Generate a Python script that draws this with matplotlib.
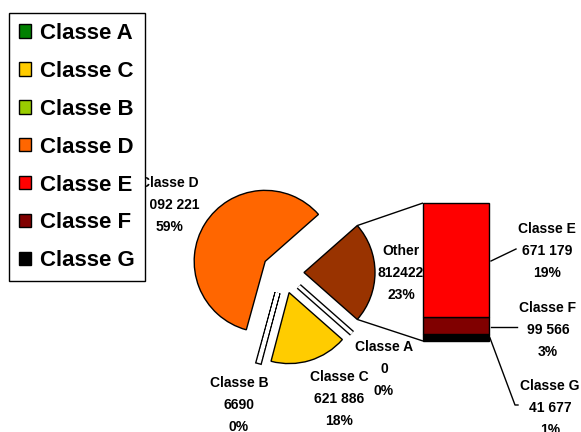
import numpy as np
import matplotlib
matplotlib.use("Agg")
import matplotlib.pyplot as plt
from matplotlib.patches import Patch
import matplotlib.patheffects as pe

plt.rcParams['font.family'] = ['Liberation Sans', 'DejaVu Sans']

# ---- data ----
legend_names = ["Classe A", "Classe C", "Classe B", "Classe D", "Classe E", "Classe F", "Classe G"]
legend_colors = ["#008000", "#FFCC00", "#99CC00", "#FF6600", "#FF0000", "#800000", "#000000"]

pie_names = ["Other", "Classe A", "Classe C", "Classe B", "Classe D"]
pie_values = [812422, 0, 621886, 6690, 2092221]
pie_value_text = ["812422", "0", "621 886", "6690", "2 092 221"]
pie_pct = ["23%", "0%", "18%", "0%", "59%"]
pie_colors = ["#993300", "#008000", "#FFCC00", "#99CC00", "#FF6600"]

bar_names = ["Classe G", "Classe F", "Classe E"]   # bottom to top
bar_values = [41677, 99566, 671179]
bar_value_text = ["41 677", "99 566", "671 179"]
bar_pct = ["1%", "3%", "19%"]
bar_colors = ["#000000", "#800000", "#FF0000"]

W, H = 581, 432
fig = plt.figure(figsize=(W / 100, H / 100), dpi=100)
ax = fig.add_axes([0, 0, 1, 1])

def py(y):  # pixel-from-top to data y
    return H - y

# ---- pie ----
center = (283, py(272.5))
radius = 71
expl = 21
total = sum(pie_values)
start = pie_values[0] / total * 180.0
wedges, _ = ax.pie(pie_values, colors=pie_colors, startangle=start, counterclock=False,
                   radius=radius, center=center, explode=[expl] * len(pie_values),
                   wedgeprops=dict(edgecolor='black', linewidth=1.0), frame=True)
ax.set_xlim(0, W)
ax.set_ylim(0, H)
ax.set_aspect('equal')
ax.axis('off')
for w, v in zip(wedges, pie_values):
    if v / total < 0.01:
        w.set_path_effects([pe.Stroke(linewidth=4.4, foreground='black'),
                            pe.Stroke(linewidth=2.4, foreground='white')])

# ---- bar of "Other" ----
bar_x = 456
bar_w = 66
bar_bottom = py(341)
bar_height_px = 138
scale = bar_height_px / sum(bar_values)
bottoms = bar_bottom + np.concatenate([[0], np.cumsum(bar_values)[:-1]]) * scale
ax.bar([bar_x] * 3, np.array(bar_values) * scale, width=bar_w, bottom=bottoms,
       color=bar_colors, edgecolor='black', linewidth=1.0)

# connector lines from Other wedge to bar
ow = wedges[0]
cx, cy = ow.center
for th, by in [(ow.theta2, bar_bottom + bar_height_px), (ow.theta1, bar_bottom)]:
    ex = cx + ow.r * np.cos(np.radians(th))
    ey = cy + ow.r * np.sin(np.radians(th))
    ax.plot([ex, bar_x - bar_w / 2], [ey, by], color='black', lw=1.0, solid_capstyle='butt')

# ---- labels ----
fs = 10
ls = 1.72
def lab(x, y, name, val, pct):
    ax.text(x, py(y), f"{name}\n{val}\n{pct}", ha='center', va='center', fontsize=fs,
            fontweight='bold', linespacing=ls, zorder=7)

pie_label_pos = [(401, 273), (384, 369), (339, 399), (239, 405), (169, 205)]
for (x, y), n, v, p in zip(pie_label_pos, pie_names, pie_value_text, pie_pct):
    lab(x, y, n, v, p)

bar_label_pos = [(550, 408), (548, 330), (547, 251)]
for (x, y), n, v, p in zip(bar_label_pos, bar_names, bar_value_text, bar_pct):
    lab(x, y, n, v, p)

# leader lines
ax.plot([491, 516], [py(261), py(249)], color='black', lw=1.0)
ax.plot([491, 517], [py(327), py(327)], color='black', lw=1.0)
ax.plot([490, 515, 518], [py(338), py(405), py(405)], color='black', lw=1.0)

# ---- legend ----
handles = [Patch(facecolor=c, edgecolor='black', linewidth=1.0) for c in legend_colors]
leg = fig.legend(handles, legend_names, loc='upper left', bbox_to_anchor=(9 / W, 1 - 13 / H),
                 bbox_transform=fig.transFigure, borderaxespad=0, fancybox=False,
                 edgecolor='black', framealpha=1, prop=dict(size=16, weight='bold'),
                 handlelength=0.55, handleheight=0.55, handletextpad=0.4,
                 labelspacing=0.76, borderpad=0.45)
leg.get_frame().set_linewidth(1.0)
leg.set_zorder(5)

fig.savefig("out.png", dpi=100)
